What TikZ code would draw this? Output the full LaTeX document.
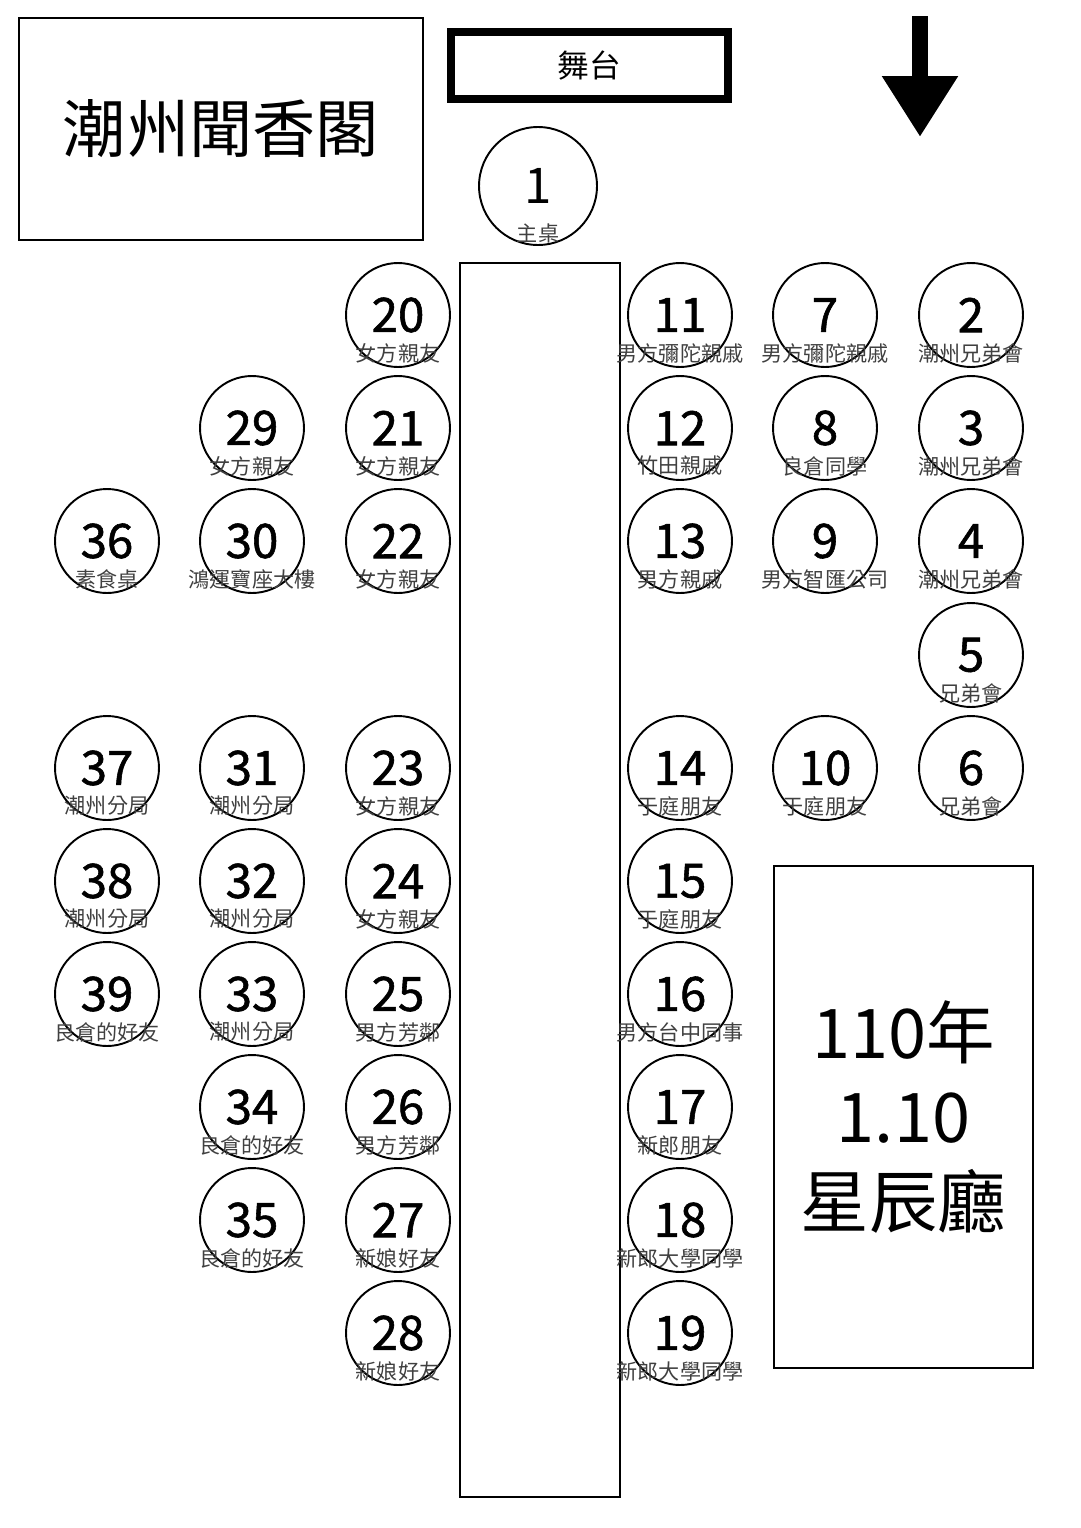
\documentclass[tikz,border=0pt]{standalone}
\usepackage{fontspec}
\setmainfont{Noto Sans CJK TC}
\newfontfamily\numfont{Noto Sans CJK TC}[FakeBold=1.2]
\usetikzlibrary{arrows.meta,positioning}

\begin{document}
\begin{tikzpicture}[
    x=0.02cm, y=-0.02cm,
    tbl/.style={circle, draw, line width=1.1pt, minimum size=2.08cm, inner sep=0pt, font=\numfont\fontsize{27}{27}\selectfont},
    lbl/.style={font=\fontsize{12}{12}\selectfont, text=black!75, inner sep=0pt, yshift=-0.76cm},
    room/.style={rectangle, draw, line width=1.1pt, align=center},
    >=Stealth
]
    \useasboundingbox (0,0) rectangle (1080,1528);

    % Rooms and stage
    \node[room, minimum width=8.08cm, minimum height=4.44cm, font=\fontsize{36}{36}\selectfont] (hall) at (221,129) {潮州聞香閣};
    \node[room, line width=4.5pt, minimum width=5.54cm, minimum height=1.34cm, font=\fontsize{18}{18}\selectfont] (stage) at (589.5,65.5) {舞台};
    \node[room, minimum width=3.2cm, minimum height=24.68cm] (long) at (540,880) {};
    \node[room, minimum width=5.18cm, minimum height=10.04cm, font=\fontsize{39}{48}\selectfont] (star) at (903.5,1117) {110年\\1.10\\星辰廳};

    % Direction arrow
    \coordinate (arrtop) at (920,16);
    \coordinate (arrtip) at (920,137);
    \draw[line width=0.32cm, -{Triangle[length=1.22cm, width=1.44cm]}] (arrtop) -- (arrtip);

    % Head table
    \node[tbl, minimum size=2.36cm, font=\fontsize{28}{28}\selectfont] (t1) at (538,186) {1};
    \node[lbl, yshift=-0.18cm] (g1) at (t1) {主桌};

    % Column left of long table
    \node[tbl] (t20) at (398,315) {20};   \node[lbl] (g20) at (t20) {女方親友};
    \node[tbl] (t21) at (398,428) {21};   \node[lbl] (g21) at (t21) {女方親友};
    \node[tbl] (t22) at (398,541) {22};   \node[lbl] (g22) at (t22) {女方親友};
    \node[tbl] (t23) at (398,768) {23};   \node[lbl] (g23) at (t23) {女方親友};
    \node[tbl] (t24) at (398,881) {24};   \node[lbl] (g24) at (t24) {女方親友};
    \node[tbl] (t25) at (398,994) {25};   \node[lbl] (g25) at (t25) {男方芳鄰};
    \node[tbl] (t26) at (398,1107) {26};  \node[lbl] (g26) at (t26) {男方芳鄰};
    \node[tbl] (t27) at (398,1220) {27};  \node[lbl] (g27) at (t27) {新娘好友};
    \node[tbl] (t28) at (398,1333) {28};  \node[lbl] (g28) at (t28) {新娘好友};

    \node[tbl] (t29) at (252,428) {29};   \node[lbl] (g29) at (t29) {女方親友};
    \node[tbl] (t30) at (252,541) {30};   \node[lbl] (g30) at (t30) {鴻運寶座大樓};
    \node[tbl] (t31) at (252,768) {31};   \node[lbl] (g31) at (t31) {潮州分局};
    \node[tbl] (t32) at (252,881) {32};   \node[lbl] (g32) at (t32) {潮州分局};
    \node[tbl] (t33) at (252,994) {33};   \node[lbl] (g33) at (t33) {潮州分局};
    \node[tbl] (t34) at (252,1107) {34};  \node[lbl] (g34) at (t34) {良倉的好友};
    \node[tbl] (t35) at (252,1220) {35};  \node[lbl] (g35) at (t35) {良倉的好友};

    \node[tbl] (t36) at (107,541) {36};   \node[lbl] (g36) at (t36) {素食桌};
    \node[tbl] (t37) at (107,768) {37};   \node[lbl] (g37) at (t37) {潮州分局};
    \node[tbl] (t38) at (107,881) {38};   \node[lbl] (g38) at (t38) {潮州分局};
    \node[tbl] (t39) at (107,994) {39};   \node[lbl] (g39) at (t39) {良倉的好友};

    % Column right of long table
    \node[tbl] (t11) at (680,315) {11};   \node[lbl] (g11) at (t11) {男方彌陀親戚};
    \node[tbl] (t12) at (680,428) {12};   \node[lbl] (g12) at (t12) {竹田親戚};
    \node[tbl] (t13) at (680,541) {13};   \node[lbl] (g13) at (t13) {男方親戚};
    \node[tbl] (t14) at (680,768) {14};   \node[lbl] (g14) at (t14) {于庭朋友};
    \node[tbl] (t15) at (680,881) {15};   \node[lbl] (g15) at (t15) {于庭朋友};
    \node[tbl] (t16) at (680,994) {16};   \node[lbl] (g16) at (t16) {男方台中同事};
    \node[tbl] (t17) at (680,1107) {17};  \node[lbl] (g17) at (t17) {新郎朋友};
    \node[tbl] (t18) at (680,1220) {18};  \node[lbl] (g18) at (t18) {新郎大學同學};
    \node[tbl] (t19) at (680,1333) {19};  \node[lbl] (g19) at (t19) {新郎大學同學};

    \node[tbl] (t7) at (825,315) {7};     \node[lbl] (g7) at (t7) {男方彌陀親戚};
    \node[tbl] (t8) at (825,428) {8};     \node[lbl] (g8) at (t8) {良倉同學};
    \node[tbl] (t9) at (825,541) {9};     \node[lbl] (g9) at (t9) {男方智匯公司};
    \node[tbl] (t10) at (825,768) {10};   \node[lbl] (g10) at (t10) {于庭朋友};

    \node[tbl] (t2) at (971,315) {2};     \node[lbl] (g2) at (t2) {潮州兄弟會};
    \node[tbl] (t3) at (971,428) {3};     \node[lbl] (g3) at (t3) {潮州兄弟會};
    \node[tbl] (t4) at (971,541) {4};     \node[lbl] (g4) at (t4) {潮州兄弟會};
    \node[tbl] (t5) at (971,655) {5};     \node[lbl] (g5) at (t5) {兄弟會};
    \node[tbl] (t6) at (971,768) {6};     \node[lbl] (g6) at (t6) {兄弟會};
\end{tikzpicture}
\end{document}
